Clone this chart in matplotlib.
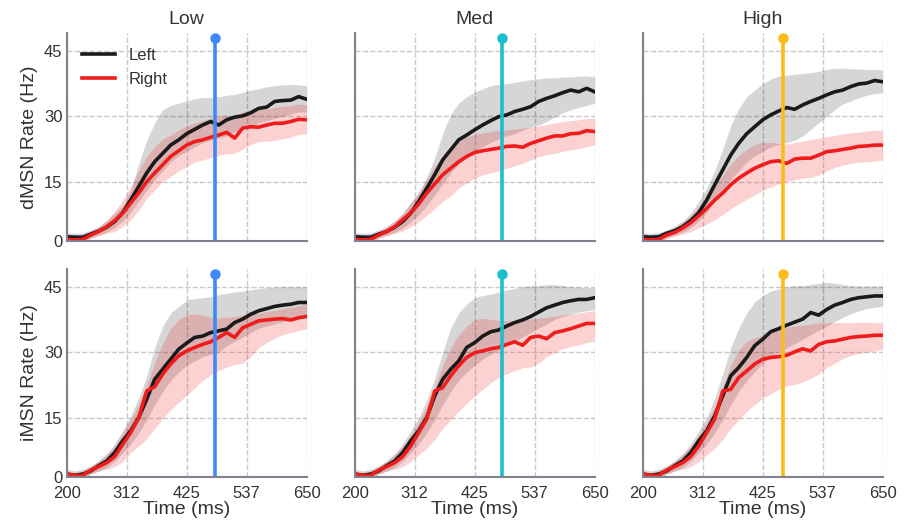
import numpy as np
import matplotlib.pyplot as plt

plt.rcParams['font.family'] = ['Liberation Sans', 'DejaVu Sans']

# sampling times (ms)
time_ms = [200, 215, 230, 245, 260, 275, 290, 305, 320, 335, 350, 365, 380, 395, 410, 425,
           440, 455, 470, 485, 500, 515, 530, 545, 560, 575, 590, 605, 620, 635, 650]

# dMSN - Low
dl_left = [2.4, 2.3, 2.3, 3.0, 3.7, 4.6, 5.9, 7.9, 10.8, 13.9, 17.0, 19.6, 21.5, 23.4, 24.6, 26.0,
           27.0, 28.0, 28.8, 28.0, 29.2, 29.8, 30.1, 30.8, 31.8, 32.1, 33.4, 33.6, 33.7, 34.5, 33.9]
dl_left_hi = [3.3, 3.2, 3.3, 4.0, 4.8, 6.0, 7.8, 9.5, 13.0, 19.0, 24.5, 28.5, 31.5, 32.5, 33.0, 33.5,
              34.0, 34.3, 34.3, 34.5, 34.8, 35.0, 35.5, 36.0, 36.3, 36.8, 37.0, 37.2, 37.3, 37.2, 37.0]
dl_left_lo = [1.6, 1.5, 1.5, 2.2, 2.8, 3.5, 4.5, 6.0, 8.0, 10.5, 13.0, 15.5, 17.5, 19.5, 21.0, 22.0,
              23.0, 24.0, 24.5, 25.0, 25.5, 26.5, 27.0, 27.5, 28.5, 29.0, 29.5, 30.0, 30.5, 31.0, 31.0]
dl_right = [1.8, 1.7, 1.8, 2.8, 3.6, 4.7, 6.1, 7.8, 10.1, 12.4, 15.0, 17.0, 18.9, 20.8, 22.1, 23.4,
            24.2, 24.6, 25.2, 25.7, 26.3, 25.0, 27.3, 27.6, 27.5, 28.0, 28.4, 28.4, 28.8, 29.3, 29.2]
dl_right_hi = [2.6, 2.5, 2.6, 3.6, 4.6, 6.2, 8.2, 10.8, 13.9, 17.5, 20.8, 23.0, 24.8, 25.7, 26.8, 27.8,
               28.5, 29.0, 29.5, 30.0, 30.3, 30.0, 31.0, 31.3, 31.5, 31.7, 32.0, 32.3, 32.5, 32.8, 32.6]
dl_right_lo = [1.0, 0.9, 1.0, 2.0, 2.6, 3.2, 3.6, 4.7, 6.3, 8.5, 11.2, 13.1, 15.0, 16.2, 17.5, 18.5,
               19.5, 20.0, 20.5, 21.0, 21.5, 21.5, 22.5, 23.5, 24.2, 24.3, 24.5, 24.8, 25.2, 25.8, 26.1]

# dMSN - Med
dm_left = [2.4, 2.3, 2.3, 3.0, 3.6, 4.6, 5.9, 7.8, 10.5, 13.5, 16.6, 20.0, 22.3, 24.6, 25.7, 26.9,
           28.0, 29.0, 29.9, 30.3, 31.1, 31.6, 32.2, 33.4, 34.1, 34.7, 35.4, 36.0, 35.6, 36.4, 35.6]
dm_left_hi = [3.3, 3.2, 3.3, 4.0, 4.8, 6.0, 7.8, 10.3, 12.5, 16.0, 20.5, 26.0, 30.5, 33.0, 34.5, 35.5,
              36.3, 37.0, 37.3, 37.5, 37.8, 38.1, 38.4, 38.6, 38.8, 38.8, 39.0, 39.0, 39.2, 39.2, 39.0]
dm_left_lo = [1.6, 1.5, 1.5, 2.2, 2.8, 3.4, 4.4, 5.8, 7.5, 9.5, 12.0, 14.5, 17.0, 19.0, 20.5, 22.0,
              23.0, 24.0, 24.8, 25.5, 26.0, 26.8, 27.5, 28.0, 28.8, 29.8, 30.8, 31.5, 32.0, 32.5, 33.0]
dm_right = [1.8, 1.7, 1.8, 2.8, 3.6, 4.7, 6.3, 7.9, 9.9, 12.4, 14.5, 16.6, 18.1, 19.6, 20.8, 21.7,
            22.1, 22.4, 22.7, 23.1, 23.2, 22.9, 23.8, 24.4, 25.0, 25.5, 25.5, 26.0, 26.1, 26.7, 26.5]
dm_right_hi = [2.6, 2.5, 2.6, 3.6, 4.6, 6.0, 7.6, 10.0, 12.5, 15.5, 18.5, 21.0, 23.2, 24.5, 25.3, 25.8,
               26.2, 26.5, 26.7, 26.9, 27.1, 27.3, 27.5, 27.8, 28.1, 28.4, 28.8, 29.0, 29.2, 29.5, 29.5]
dm_right_lo = [1.0, 0.9, 1.0, 2.0, 2.6, 3.2, 3.7, 4.7, 5.9, 7.3, 8.8, 10.5, 11.8, 13.5, 14.8, 15.8,
               16.6, 17.0, 17.5, 18.1, 18.6, 19.2, 20.0, 20.8, 21.2, 21.5, 22.0, 22.3, 22.6, 23.0, 23.4]

# dMSN - High
dh_left = [2.4, 2.3, 2.4, 3.2, 3.8, 4.7, 6.1, 7.9, 10.8, 14.3, 17.7, 21.1, 23.8, 26.0, 27.6, 29.2,
           30.3, 31.2, 32.0, 31.6, 32.6, 33.4, 34.1, 34.9, 35.6, 36.0, 36.8, 37.4, 37.6, 38.2, 37.9]
dh_left_hi = [3.3, 3.2, 3.3, 4.0, 4.8, 6.0, 7.8, 10.5, 13.5, 17.5, 22.5, 27.8, 31.7, 34.5, 36.0, 37.5,
              38.5, 39.2, 39.4, 39.6, 39.8, 40.0, 40.3, 40.7, 41.0, 41.0, 40.9, 40.8, 40.7, 40.7, 40.6]
dh_left_lo = [1.6, 1.5, 1.5, 2.2, 2.8, 3.4, 4.5, 6.0, 8.0, 10.5, 13.0, 15.5, 17.5, 19.5, 21.0, 22.0,
              23.0, 23.5, 24.0, 24.5, 25.5, 27.0, 28.5, 30.0, 31.5, 32.8, 33.5, 34.2, 34.8, 35.2, 35.4]
dh_right = [1.8, 1.7, 1.8, 2.8, 3.4, 4.4, 5.6, 7.2, 8.9, 10.8, 12.4, 14.3, 15.8, 17.0, 18.1, 18.9,
            19.6, 19.8, 19.2, 20.2, 20.4, 20.4, 21.1, 21.9, 22.1, 22.4, 22.7, 23.1, 23.2, 23.4, 23.4]
dh_right_hi = [2.6, 2.5, 2.6, 3.6, 4.4, 5.8, 7.2, 9.3, 11.5, 14.0, 16.5, 19.0, 21.0, 22.5, 23.5, 24.0,
               24.0, 23.8, 23.6, 24.0, 24.3, 24.7, 25.0, 25.3, 25.6, 26.0, 26.2, 26.4, 26.6, 26.8, 26.9]
dh_right_lo = [1.0, 0.9, 1.0, 2.0, 2.5, 3.0, 3.6, 4.4, 5.3, 6.3, 7.5, 8.8, 10.0, 11.0, 12.0, 13.0,
               13.8, 14.5, 15.0, 15.5, 15.8, 16.0, 16.5, 17.5, 18.3, 18.8, 19.2, 19.5, 19.6, 19.8, 20.0]

# iMSN - Low
il_left = [2.1, 1.8, 2.1, 2.8, 4.0, 5.1, 7.0, 9.7, 12.0, 15.0, 19.2, 23.8, 26.1, 28.4, 30.7, 32.1,
           33.4, 33.7, 34.5, 34.9, 35.3, 36.8, 37.6, 38.7, 39.5, 40.0, 40.5, 40.8, 41.0, 41.4, 41.4]
il_left_hi = [3.2, 2.8, 3.2, 4.0, 5.2, 6.8, 9.0, 12.0, 15.4, 19.5, 24.5, 31.0, 36.0, 39.0, 40.5, 42.0,
              42.3, 42.5, 42.7, 43.2, 43.5, 43.8, 44.0, 44.3, 44.6, 44.8, 44.9, 45.0, 45.0, 45.0, 45.0]
il_left_lo = [1.3, 1.0, 1.3, 2.0, 2.8, 3.6, 5.0, 7.0, 9.0, 11.5, 14.5, 18.0, 21.0, 23.5, 25.5, 27.0,
              28.0, 29.0, 29.5, 30.0, 31.5, 32.5, 33.5, 34.5, 35.5, 36.0, 36.5, 37.0, 37.5, 37.8, 38.0]
il_right = [2.1, 1.8, 1.8, 3.0, 3.8, 4.7, 6.1, 8.9, 11.6, 15.0, 21.1, 22.1, 25.0, 27.3, 29.2, 30.3,
            31.1, 31.8, 32.4, 33.4, 34.5, 33.4, 35.6, 36.4, 37.2, 37.4, 37.6, 37.7, 37.4, 37.9, 38.2]
il_right_hi = [2.8, 2.5, 2.6, 3.8, 5.0, 6.5, 8.5, 11.5, 14.5, 18.0, 22.5, 27.5, 32.0, 35.5, 37.5, 38.5,
               38.8, 38.5, 38.0, 37.8, 38.0, 38.2, 38.5, 38.8, 39.0, 39.3, 39.6, 40.0, 40.3, 40.6, 41.0]
il_right_lo = [1.3, 1.0, 1.0, 2.2, 2.8, 3.2, 3.8, 5.0, 7.0, 8.5, 10.2, 12.5, 14.8, 16.8, 18.5, 20.2,
               21.8, 23.5, 24.8, 25.8, 26.6, 27.2, 27.5, 29.0, 31.0, 32.2, 33.2, 34.0, 34.5, 35.0, 35.3]

# iMSN - Med
im_left = [2.1, 1.8, 2.1, 2.8, 4.0, 5.1, 7.0, 9.7, 12.0, 15.0, 20.0, 23.8, 26.1, 28.0, 31.1, 32.2,
           33.7, 34.7, 35.1, 36.0, 36.8, 37.4, 38.2, 39.2, 40.2, 40.8, 41.4, 41.8, 42.1, 42.1, 42.5]
im_left_hi = [3.2, 2.8, 3.2, 4.0, 5.2, 6.8, 9.0, 12.0, 15.0, 19.0, 24.0, 30.0, 35.5, 39.0, 41.0, 42.5,
              43.0, 43.3, 43.8, 44.3, 44.6, 45.0, 45.2, 45.3, 45.5, 45.5, 45.3, 45.0, 44.9, 44.8, 44.8]
im_left_lo = [1.3, 1.0, 1.3, 2.0, 2.8, 3.6, 5.0, 7.0, 9.0, 11.5, 14.5, 18.0, 21.0, 23.5, 25.5, 27.0,
              28.5, 29.5, 30.5, 31.5, 32.5, 33.5, 34.5, 35.5, 36.5, 37.5, 38.2, 38.8, 39.2, 39.5, 39.8]
im_right = [2.1, 1.8, 1.8, 3.0, 3.8, 4.7, 6.1, 8.5, 11.6, 14.7, 21.1, 21.9, 24.6, 26.9, 28.8, 29.9,
            30.3, 30.8, 31.1, 31.8, 32.4, 31.6, 33.4, 33.7, 33.1, 34.5, 34.9, 35.4, 36.0, 36.6, 36.6]
im_right_hi = [2.8, 2.5, 2.6, 3.8, 5.0, 6.5, 8.5, 11.0, 14.0, 17.5, 22.0, 27.0, 31.0, 34.0, 36.0, 37.5,
               37.8, 37.5, 37.3, 37.2, 37.3, 37.5, 37.6, 37.8, 38.0, 38.3, 38.6, 38.8, 39.0, 39.3, 39.5]
im_right_lo = [1.3, 1.0, 1.0, 2.2, 2.8, 3.2, 3.8, 5.0, 6.5, 8.0, 10.0, 12.5, 14.5, 16.5, 18.3, 20.0,
               21.5, 23.0, 24.2, 25.0, 25.8, 26.5, 26.6, 27.5, 29.0, 30.0, 30.8, 31.3, 31.7, 32.2, 32.6]

# iMSN - High
ih_left = [2.1, 1.8, 2.1, 2.8, 4.0, 5.1, 7.0, 9.7, 12.0, 15.4, 20.0, 24.6, 26.5, 28.8, 31.5, 33.0,
           34.7, 35.4, 36.2, 36.9, 37.6, 39.1, 38.5, 39.8, 40.8, 41.4, 42.1, 42.5, 42.7, 42.9, 42.9]
ih_left_hi = [3.2, 2.8, 3.2, 4.0, 5.2, 6.8, 9.0, 12.0, 15.0, 19.5, 25.0, 31.0, 35.5, 39.0, 41.5, 43.0,
              44.0, 44.5, 45.0, 45.3, 45.3, 45.5, 45.8, 46.0, 45.8, 45.5, 45.3, 45.2, 45.2, 45.2, 45.2]
ih_left_lo = [1.3, 1.0, 1.3, 2.0, 2.8, 3.6, 5.0, 7.0, 9.0, 11.5, 14.5, 18.0, 21.0, 23.5, 25.5, 27.5,
              29.0, 30.0, 31.0, 32.0, 33.0, 34.0, 35.0, 36.0, 37.0, 38.0, 38.8, 39.5, 40.0, 40.3, 40.6]
ih_right = [2.1, 1.8, 1.8, 3.0, 3.8, 4.7, 6.1, 8.5, 11.6, 14.7, 21.1, 21.5, 24.2, 25.7, 27.3, 28.4,
            28.8, 29.0, 29.3, 30.1, 30.8, 30.3, 31.8, 32.4, 32.6, 33.0, 33.4, 33.6, 33.7, 33.9, 33.9]
ih_right_hi = [2.8, 2.5, 2.6, 3.8, 5.0, 6.5, 8.5, 11.0, 14.0, 17.5, 22.0, 27.0, 30.5, 32.5, 33.3, 34.0,
               34.6, 35.2, 35.6, 36.0, 36.2, 36.5, 36.7, 36.8, 36.8, 36.8, 36.8, 36.9, 36.9, 36.8, 36.8]
ih_right_lo = [1.3, 1.0, 1.0, 2.2, 2.8, 3.2, 3.8, 5.0, 6.5, 8.0, 10.0, 12.5, 14.5, 16.5, 18.0, 19.5,
               20.5, 21.5, 22.3, 22.6, 23.2, 24.0, 25.0, 26.5, 27.5, 28.5, 29.3, 29.8, 30.0, 30.3, 30.7]

conditions = ["Low", "Med", "High"]
decision_ms = [478, 476, 464]
decision_colors = ["#3f88f7", "#1cbfcd", "#fbbc19"]
row_labels = ["dMSN Rate (Hz)", "iMSN Rate (Hz)"]
xtick_vals = [200, 312.5, 425, 537.5, 650]
xtick_labels = ["200", "312", "425", "537", "650"]
ytick_labels = ["0", "15", "30", "45"]

panels = [
    [(dl_left, dl_left_lo, dl_left_hi, dl_right, dl_right_lo, dl_right_hi),
     (dm_left, dm_left_lo, dm_left_hi, dm_right, dm_right_lo, dm_right_hi),
     (dh_left, dh_left_lo, dh_left_hi, dh_right, dh_right_lo, dh_right_hi)],
    [(il_left, il_left_lo, il_left_hi, il_right, il_right_lo, il_right_hi),
     (im_left, im_left_lo, im_left_hi, im_right, im_right_lo, im_right_hi),
     (ih_left, ih_left_lo, ih_left_hi, ih_right, ih_right_lo, ih_right_hi)],
]

ylo, yhi = 1.5, 49.0
text_col = "#333333"

fig, axes = plt.subplots(2, 3, figsize=(9.07, 5.29), dpi=100)
fig.subplots_adjust(left=0.0735, right=0.9732, bottom=0.0989, top=0.937,
                    wspace=0.2, hspace=0.138)

t = np.array(time_ms)
for r in range(2):
    for c in range(3):
        ax = axes[r, c]
        lm, llo, lhi, rm, rlo, rhi = panels[r][c]
        ax.fill_between(t, llo, lhi, color="black", alpha=0.16, lw=0)
        ax.fill_between(t, rlo, rhi, color="#ee1c1c", alpha=0.2, lw=0)
        ax.plot(t, lm, color="#1a1a1a", lw=2.6, label="Left")
        ax.plot(t, rm, color="#f01c1c", lw=2.6, label="Right")
        ax.plot([decision_ms[c], decision_ms[c]], [ylo, 48], color=decision_colors[c], lw=2.6)
        ax.plot(decision_ms[c], 48, "o", color=decision_colors[c], ms=6.5, clip_on=False)

        ax.set_xlim(200, 650)
        ax.set_ylim(ylo, yhi)
        ax.set_xticks(xtick_vals)
        ax.set_yticks([ylo, 15, 30, 45])
        ax.grid(True, ls="--", color="#c9c9c9", lw=1.0)
        ax.set_axisbelow(True)
        for s in ["top", "right"]:
            ax.spines[s].set_visible(False)
        for s in ["left", "bottom"]:
            ax.spines[s].set_color("#80838f")
            ax.spines[s].set_linewidth(1.5)
        ax.tick_params(length=0, labelsize=12, labelcolor=text_col)
        ax.tick_params(axis="x", pad=7)
        ax.tick_params(axis="y", pad=3)

        if r == 1:
            ax.set_xticklabels(xtick_labels)
            ax.set_xlabel("Time (ms)", fontsize=14, color=text_col, labelpad=0)
        else:
            ax.set_xticklabels([])
            ax.set_title(conditions[c], fontsize=14, color=text_col, pad=7)
        if c == 0:
            ax.set_yticklabels(ytick_labels)
            ax.set_ylabel(row_labels[r], fontsize=14, color=text_col, labelpad=4)
        else:
            ax.set_yticklabels([])

leg = axes[0, 0].legend(loc="upper left", frameon=False, fontsize=12)
for txt in leg.get_texts():
    txt.set_color(text_col)

fig.savefig("out.png", dpi=100)
